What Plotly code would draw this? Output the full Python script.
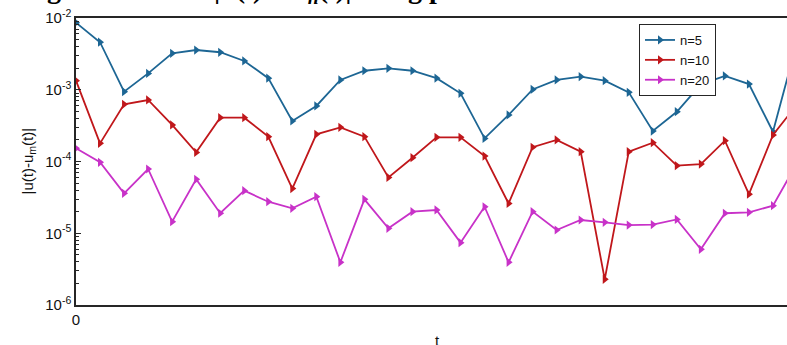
import plotly.graph_objects as go

# Data
t = [0, 1, 2, 3, 4, 5, 6, 7, 8, 9, 10, 11, 12, 13, 14, 15, 16, 17, 18, 19, 20,
     21, 22, 23, 24, 25, 26, 27, 28, 29, 30]

err_n5 = [8.6e-3, 4.6e-3, 9.4e-4, 1.69e-3, 3.22e-3, 3.58e-3, 3.33e-3, 2.52e-3, 1.45e-3, 3.67e-4,
          5.94e-4, 1.37e-3, 1.84e-3, 1.99e-3, 1.84e-3, 1.45e-3, 8.93e-4, 2.1e-4, 4.45e-4, 1.01e-3,
          1.37e-3, 1.52e-3, 1.34e-3, 9.2e-4, 2.66e-4, 4.94e-4, 1.19e-3, 1.56e-3, 1.2e-3, 2.6e-4,
          4.6e-3]
err_n10 = [1.34e-3, 1.79e-4, 6.27e-4, 7.2e-4, 3.23e-4, 1.34e-4, 4.08e-4, 4.08e-4, 2.22e-4, 4.2e-5,
           2.39e-4, 2.99e-4, 2.22e-4, 6.0e-5, 1.13e-4, 2.17e-4, 2.17e-4, 1.19e-4, 2.6e-5, 1.58e-4,
           2.0e-4, 1.37e-4, 2.28e-6, 1.37e-4, 1.83e-4, 8.75e-5, 9.2e-5, 1.95e-4, 3.5e-5, 2.34e-4,
           6.25e-4]
err_n20 = [1.53e-4, 9.75e-5, 3.6e-5, 7.86e-5, 1.45e-5, 5.65e-5, 1.9e-5, 3.92e-5, 2.75e-5, 2.23e-5,
           3.23e-5, 3.94e-6, 2.97e-5, 1.17e-5, 2.0e-5, 2.11e-5, 7.4e-6, 2.34e-5, 3.94e-6, 2.0e-5,
           1.11e-5, 1.53e-5, 1.42e-5, 1.3e-5, 1.32e-5, 1.56e-5, 5.97e-6, 1.9e-5, 1.96e-5, 2.42e-5,
           9.5e-5]

series_names = ["n=5", "n=10", "n=20"]
series_colors = ["#1d6694", "#c0171b", "#c832c8"]

y_tickvals = [1e-6, 1e-5, 1e-4, 1e-3, 1e-2]
y_ticktext = ["10<sup>-6</sup>", "10<sup>-5</sup>", "10<sup>-4</sup>", "10<sup>-3</sup>", "10<sup>-2</sup>"]
x_tickvals = [0]
x_ticktext = ["0"]

# minor tick positions (2..9 within each decade)
minor_vals = [m * d for d in [1e-6, 1e-5, 1e-4, 1e-3] for m in range(2, 10)]

axis_color = "#262626"
font_family = "Liberation Sans, Arial, sans-serif"

fig = go.Figure()
for name, ys, col in zip(series_names, [err_n5, err_n10, err_n20], series_colors):
    fig.add_trace(go.Scatter(
        x=t, y=ys, name=name, mode="lines+markers",
        line=dict(color=col, width=1.8),
        marker=dict(symbol="triangle-right", size=8, color=col),
        cliponaxis=True,
    ))

L, T, B = 76, 18, 40
W, H = 787, 345
pw = W - L
ph = H - T - B

fig.update_layout(
    width=W, height=H,
    margin=dict(l=L, r=0, t=T, b=B, autoexpand=False),
    paper_bgcolor="white", plot_bgcolor="white",
    font=dict(family=font_family, size=14, color=axis_color),
    showlegend=True,
    legend=dict(
        x=(639 - L) / pw, y=1 - (24 - T) / ph, xanchor="left", yanchor="top",
        bgcolor="white", bordercolor=axis_color, borderwidth=1,
        font=dict(family=font_family, size=13, color="#111111"),
        tracegroupgap=0, itemwidth=30,
    ),
    yaxis2=dict(
        type="log", range=[-6, -2], overlaying="y", side="left",
        tickvals=minor_vals, showticklabels=False,
        ticks="inside", ticklen=3, tickcolor=axis_color, tickwidth=1,
        showline=False, showgrid=False, zeroline=False, automargin=False,
    ),
)

# invisible trace to activate the minor-tick axis
fig.add_trace(go.Scatter(x=[t[0]], y=[y_tickvals[0]], yaxis="y2", mode="markers",
                         marker=dict(opacity=0), showlegend=False, hoverinfo="skip"))

fig.update_xaxes(
    range=[0, (W - L) / ((797 - L) / 30)],
    tickvals=x_tickvals, ticktext=x_ticktext,
    ticks="inside", ticklen=5, tickcolor=axis_color,
    showline=True, linecolor=axis_color, linewidth=1.5, mirror=True,
    showgrid=False, zeroline=False, automargin=False,
    tickfont=dict(size=15, family=font_family, color="#111111"),
)
fig.update_layout(yaxis=dict(
    type="log", range=[-6, -2],
    tickvals=y_tickvals, ticktext=y_ticktext,
    ticks="inside", ticklen=5, tickcolor=axis_color,
    showline=True, linecolor=axis_color, linewidth=1.5, mirror=False,
    showgrid=False, zeroline=False, automargin=False,
    tickfont=dict(size=15, family=font_family, color="#111111"),
))

# y-axis title
fig.add_annotation(
    text="|u(t)-u<sub>m</sub>(t)|", xref="paper", yref="paper",
    x=(28 - L) / pw, y=0.5, textangle=-90, showarrow=False,
    font=dict(size=15, family=font_family, color="#111111"),
    xanchor="center", yanchor="middle",
)
# x-axis title (cut off at the bottom)
fig.add_annotation(
    text="t", xref="paper", yref="paper",
    x=(437 - L) / pw, y=-(330 - (H - B)) / ph, showarrow=False,
    font=dict(size=15, family=font_family, color="#111111"),
    xanchor="center", yanchor="top",
)
# caption, mostly cut off at the top
fig.add_annotation(
    text="<b>Figure 3: Error |<i>u</i>(<i>t</i>) − <i>u<sub>n</sub></i>(<i>t</i>)| using p</b>",
    xref="paper", yref="paper",
    x=(20 - L) / pw, y=1 + (T - 10) / ph, showarrow=False,
    font=dict(size=28, family="Liberation Serif, Times New Roman, serif", color="#000000"),
    xanchor="left", yanchor="bottom",
)

fig.write_html("out.html", config={"displayModeBar": False},
               post_script="document.body.style.margin='0';document.body.style.overflow='hidden';")
